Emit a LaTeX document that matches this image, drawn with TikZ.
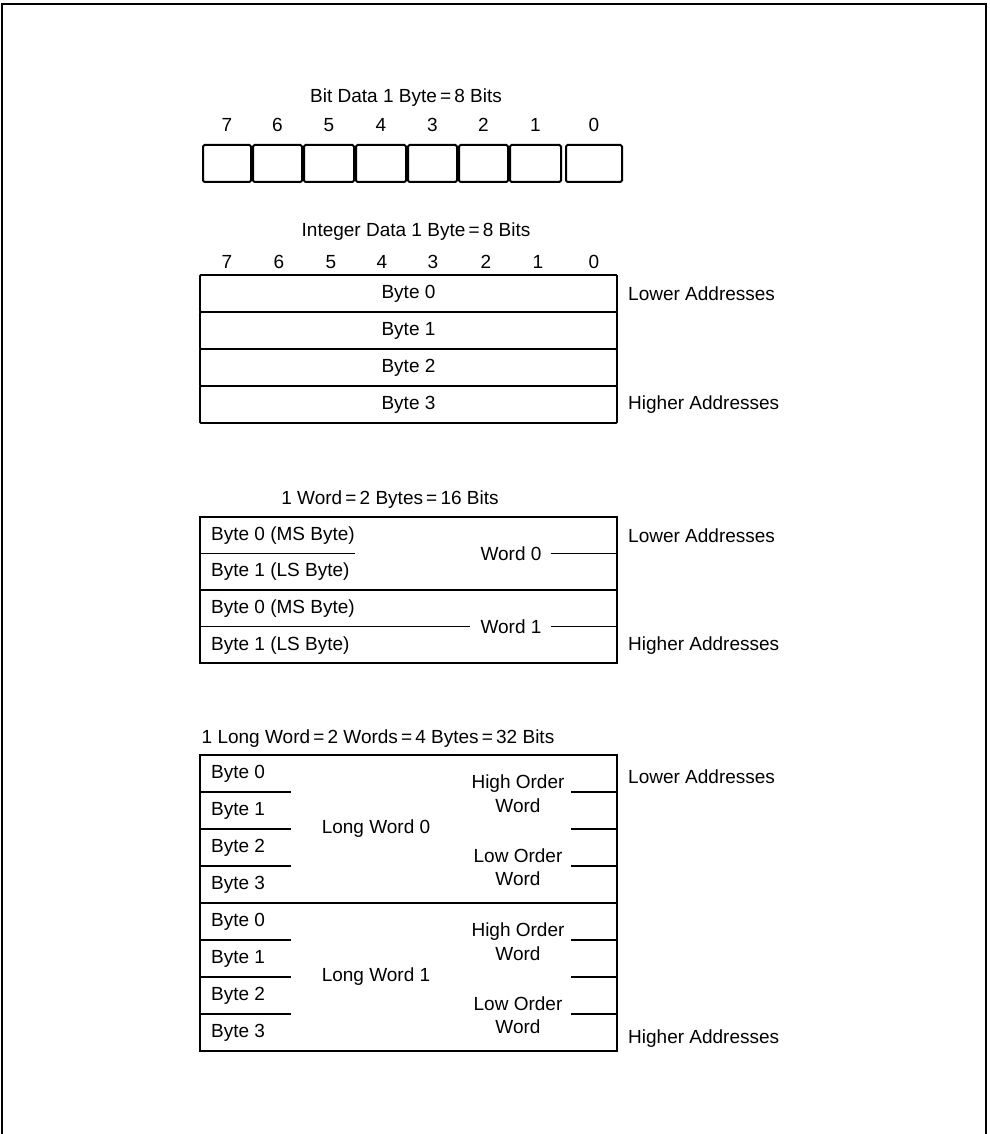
\documentclass[tikz,border=0pt]{standalone}
\usepackage{fontspec}
\setmainfont{Liberation Sans}
\begin{document}
\begin{tikzpicture}[x=1pt,y=-1pt,
  bitcell/.style={draw, line width=2pt, rounded corners=1.5pt,
    minimum height=37pt, inner sep=0pt},
  rowbox/.style={draw, line width=1.9pt, rounded corners=1pt,
    minimum width=417pt, minimum height=37pt, inner sep=0pt,
    font=\fontsize{19}{21}\selectfont},
  outerbox/.style={draw, line width=2pt, inner sep=0pt, minimum width=417pt},
  rule/.style={line width=1.7pt},
  lbl/.style={font=\fontsize{19}{21}\selectfont, inner sep=0pt},
  ttl/.style={font=\fontsize{19}{21}\selectfont, inner sep=0pt},
  num/.style={font=\fontsize{19}{21}\selectfont, inner sep=0pt},
]
\useasboundingbox (0,0) rectangle (989,1134);
% page frame, open at the bottom
\draw[line width=2pt] (2,1134) -- (2,4) -- (986,4) -- (986,1134);

% ---- bit data ----
\node[ttl] (bittitle) at (406,98) {Bit Data 1 Byte\,=\,8 Bits};
\foreach \b/\c/\w in {7/227/48, 6/277.5/49, 5/329/50, 4/381/50,
                      3/432.5/49, 2/483.5/49, 1/535.5/51, 0/594/56} {
  \node[bitcell, minimum width=\w pt] (bit\b) at (\c,163.5) {};
  \node[num] (bitnum\b) at (\c,125) {\b};
}

% ---- integer data ----
\node[ttl] (inttitle) at (416,232) {Integer Data 1 Byte\,=\,8 Bits};
\foreach \b/\c in {7/227, 6/279, 5/331, 4/382, 3/433, 2/486, 1/538, 0/594} {
  \node[num] (intnum\b) at (\c,262) {\b};
}
\foreach \r in {0,1,2,3} {
  \node[rowbox] (ib\r) at (408.5,293.5+\r*37) {Byte \r};
}
\node[lbl, anchor=west] (intlow) at (628,294) {Lower Addresses};
\node[lbl, anchor=west] (inthigh) at (628,405) {Higher Addresses};

% ---- words ----
\node[ttl] (wtitle) at (390,500) {1 Word\,=\,2 Bytes\,=\,16 Bits};
\node[outerbox, minimum height=146pt] (wbox) at (408.5,590) {};
\draw[rule] (wbox.west) -- (wbox.east);
\node[lbl, anchor=west] (wb00) at (211,535.5) {Byte 0 (MS Byte)};
\node[lbl, anchor=west] (wb01) at (211,572) {Byte 1 (LS Byte)};
\node[lbl, anchor=west] (wb10) at (211,608.5) {Byte 0 (MS Byte)};
\node[lbl, anchor=west] (wb11) at (211,645.5) {Byte 1 (LS Byte)};
\node[lbl] (w0) at (511,553.5) {Word 0};
\node[lbl] (w1) at (511,626.5) {Word 1};
\draw[rule] (wbox.west |- w0) -- (wb00.east |- w0);
\draw[rule] ([xshift=9pt]w0.east) -- (wbox.east |- w0);
\draw[rule] (wbox.west |- w1) -- ([xshift=-10pt]w1.west);
\draw[rule] ([xshift=9pt]w1.east) -- (wbox.east |- w1);
\node[lbl, anchor=west] (wlow) at (628,535.5) {Lower Addresses};
\node[lbl, anchor=west] (whigh) at (628,646) {Higher Addresses};

% ---- long words ----
\node[ttl] (ltitle) at (378,739) {1 Long Word\,=\,2 Words\,=\,4 Bytes\,=\,32 Bits};
\node[outerbox, minimum height=296pt] (lbox) at (408.5,903) {};
\draw[rule] (lbox.west) -- (lbox.east);
\foreach \k in {0,1} {
  \foreach \r in {0,1,2,3} {
    \node[lbl, anchor=west] (lb\k\r) at (211,773.5+\k*148+\r*37) {Byte \r};
  }
  \node[lbl] (lw\k) at (376,829+\k*148) {Long Word \k};
  \node[lbl] (hi\k) at (518,784+\k*148) {High Order};
  \node[lbl] (hiw\k) at (518,806+\k*148) {Word};
  \node[lbl] (lo\k) at (518,856+\k*148) {Low Order};
  \node[lbl] (low\k) at (518,879+\k*148) {Word};
  \foreach \r in {1,2,3} {
    \coordinate (cl\k\r) at (291,755+\k*148+\r*37);
    \draw[rule] (lbox.west |- cl\k\r) -- (cl\k\r);
    \coordinate (cr\k\r) at (571,755+\k*148+\r*37);
    \draw[rule] (cr\k\r) -- (lbox.east |- cr\k\r);
  }
}
\node[lbl, anchor=west] (llow) at (628,777) {Lower Addresses};
\node[lbl, anchor=west] (lhigh) at (628,1039) {Higher Addresses};
\end{tikzpicture}
\end{document}
